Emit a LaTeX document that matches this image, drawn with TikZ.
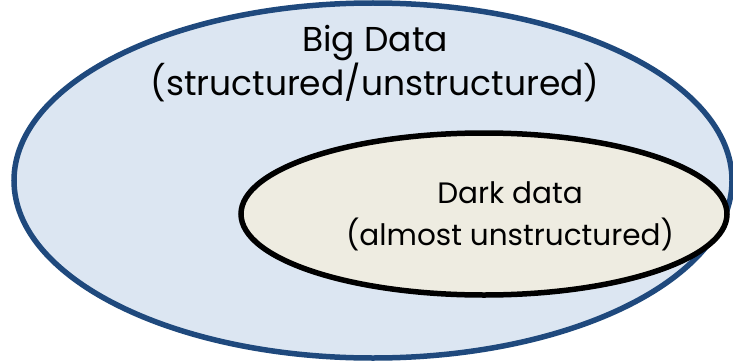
\documentclass[tikz,border=0pt]{standalone}
\usepackage{fontspec}
\setmainfont{Poppins}
\usetikzlibrary{shapes.geometric}
\definecolor{bigblue}{HTML}{1F497D}
\definecolor{bigfill}{HTML}{DCE6F2}
\definecolor{darkfill}{HTML}{EEECE1}
\tikzset{
  region/.style={ellipse, line width=5.5pt, inner sep=0pt},
  caption/.style={align=center, font=\fontsize{34.5}{44}\selectfont}
}
\begin{document}
\begin{tikzpicture}[x=1pt,y=-1pt]
  \useasboundingbox (0,0) rectangle (733,361);
  % outer and inner sets
  \node[region, draw=bigblue, fill=bigfill, minimum width=718pt, minimum height=355pt] (big) at (373,180.5) {};
  \node[region, draw=black, fill=darkfill, minimum width=486pt, minimum height=162pt] (dark) at (484,214) {};
  % labels
  \node[caption] (biglabel) at (375,64) {Big Data\\(structured/unstructured)};
  \node[caption, font=\fontsize{29.5}{42}\selectfont] (darklabel) at (510,216) {Dark data\\(almost unstructured)};
\end{tikzpicture}
\end{document}
